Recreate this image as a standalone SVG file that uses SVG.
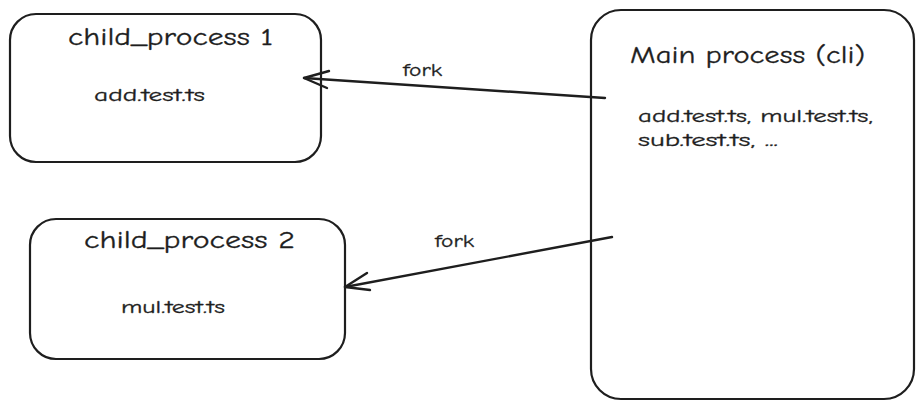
<svg xmlns="http://www.w3.org/2000/svg" width="923" height="409" viewBox="0 0 923 409">
<style>
.box{fill:none;stroke:#1e1e1e;stroke-width:2.2}
.edge{fill:none;stroke:#1e1e1e;stroke-width:2.4;stroke-linecap:round;stroke-linejoin:round}
text{font-family:"Comic Neue","Liberation Sans","Noto Sans",sans-serif;fill:#1e1e1e;stroke:#1e1e1e;stroke-width:0.3}
.title{font-size:25px}
.body{font-size:18px}
</style>
<rect width="923" height="409" fill="#ffffff"/>
<g id="child1">
<rect class="box" x="10" y="14" width="311" height="148" rx="26"/>
<text class="title" x="68" y="45" textLength="205" lengthAdjust="spacingAndGlyphs">child_process 1</text>
<text class="body" x="94" y="101" textLength="111" lengthAdjust="spacingAndGlyphs">add.test.ts</text>
</g>
<g id="child2">
<rect class="box" x="30" y="219" width="315" height="140" rx="26"/>
<text class="title" x="84" y="248" textLength="211" lengthAdjust="spacingAndGlyphs">child_process 2</text>
<text class="body" x="121" y="313" textLength="104" lengthAdjust="spacingAndGlyphs">mul.test.ts</text>
</g>
<g id="main">
<rect class="box" x="591" y="10" width="323" height="389" rx="30"/>
<text class="title" x="630" y="63" textLength="235" lengthAdjust="spacingAndGlyphs">Main process (cli)</text>
<text class="body" x="638" y="122" textLength="235" lengthAdjust="spacingAndGlyphs">add.test.ts, mul.test.ts,</text>
<text class="body" x="638" y="146" textLength="140" lengthAdjust="spacingAndGlyphs">sub.test.ts, ...</text>
</g>
<g id="connectors">
<path class="edge" d="M605 98 L304 78"/>
<path class="edge" d="M329 71 L304 78 L327 88"/>
<text class="body" x="403" y="76" textLength="39" lengthAdjust="spacingAndGlyphs">fork</text>
<path class="edge" d="M612 237 L345 287"/>
<path class="edge" d="M367 273 L345 287 L370 290"/>
<text class="body" x="435" y="247" textLength="39" lengthAdjust="spacingAndGlyphs">fork</text>
</g>
</svg>
